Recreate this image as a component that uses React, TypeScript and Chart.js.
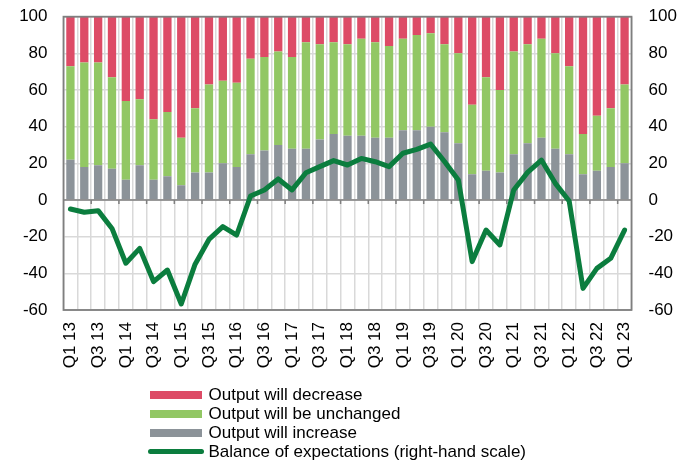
import React, { useEffect, useRef } from 'react';
import { Chart, registerables } from 'chart.js';

Chart.register(...registerables);

const categories = [
  'Q1 13', 'Q2 13', 'Q3 13', 'Q4 13',
  'Q1 14', 'Q2 14', 'Q3 14', 'Q4 14',
  'Q1 15', 'Q2 15', 'Q3 15', 'Q4 15',
  'Q1 16', 'Q2 16', 'Q3 16', 'Q4 16',
  'Q1 17', 'Q2 17', 'Q3 17', 'Q4 17',
  'Q1 18', 'Q2 18', 'Q3 18', 'Q4 18',
  'Q1 19', 'Q2 19', 'Q3 19', 'Q4 19',
  'Q1 20', 'Q2 20', 'Q3 20', 'Q4 20',
  'Q1 21', 'Q2 21', 'Q3 21', 'Q4 21',
  'Q1 22', 'Q2 22', 'Q3 22', 'Q4 22',
  'Q1 23',
];

const outputIncrease = [
  22, 18, 19, 17, 11, 19, 11, 13, 8, 15,
  15, 20, 18, 25, 27, 30, 28, 28, 33, 36,
  35, 35, 34, 34, 38, 38, 40, 37, 31, 14,
  16, 15, 25, 31, 34, 28, 25, 14, 16, 18,
  20,
];

const outputUnchanged = [
  51, 57, 56, 50, 43, 36, 33, 35, 26, 35,
  48, 45, 46, 52, 51, 51, 50, 58, 52, 50,
  50, 53, 52, 50, 50, 52, 51, 48, 49, 38,
  51, 45, 56, 54, 54, 52, 48, 22, 30, 32,
  43,
];

const outputDecrease = [
  27, 25, 25, 33, 46, 45, 56, 52, 66, 50,
  37, 35, 36, 23, 22, 19, 22, 14, 15, 14,
  15, 12, 14, 16, 12, 10, 9, 15, 20, 48,
  33, 40, 19, 15, 12, 20, 27, 64, 54, 50,
  37,
];

const balance = [
  -4.9, -6.7, -5.8, -15.5, -34.5, -26.4, -44.5, -38.2, -56.7, -35,
  -21.5, -14.5, -19.1, 2.2, 5.5, 11.5, 5.5, 14.9, 18.2, 21.5,
  19.1, 22.7, 20.9, 18.2, 25.5, 27.6, 30.5, 21, 10.9, -33.6,
  -16.4, -24.5, 5.5, 15.1, 21.8, 9.1, -0.5, -48.2, -37.3, -31.8,
  -16.4,
];

const axisMin = -60;
const axisMax = 100;
const axisStep = 20;

const seriesNames = [
  'Output will decrease',
  'Output will be unchanged',
  'Output will increase',
  'Balance of expectations (right-hand scale)',
];

const RED = '#DD4B66';
const GREEN = '#92C764';
const GREY = '#8C9399';
const LINE = '#0B7D3E';
const GRID = '#D9D9D9';
const FRAME = '#7F7F7F';
const FONT = "'Liberation Sans', Arial, sans-serif";

const framePlugin = {
  id: 'framePlugin',
  beforeDatasetDraw(chart: any, args: any) {
    if (args.meta.type !== 'line') return;
    const { ctx, chartArea: a, scales } = chart;
    const y0 = scales.y.getPixelForValue(0);
    ctx.save();
    ctx.strokeStyle = FRAME;
    ctx.lineWidth = 1.5;
    ctx.beginPath();
    ctx.moveTo(a.left, y0);
    ctx.lineTo(a.right, y0);
    const n = categories.length;
    const w = (a.right - a.left) / n;
    for (let k = 2; k < n; k += 2) {
      const x = a.left + k * w;
      ctx.moveTo(x, y0);
      ctx.lineTo(x, y0 + 4);
    }
    ctx.stroke();
    ctx.restore();
  },
  afterDatasetsDraw(chart: any) {
    const { ctx, chartArea: a } = chart;
    ctx.save();
    ctx.strokeStyle = FRAME;
    ctx.lineWidth = 1.8;
    ctx.strokeRect(a.left, a.top, a.right - a.left, a.bottom - a.top);
    ctx.restore();
  },
};

export default function App() {
  const canvasRef = useRef<HTMLCanvasElement | null>(null);

  useEffect(() => {
    document.body.style.marginBottom = '0px';
    if (!canvasRef.current) return;
    const chart = new Chart(canvasRef.current, {
      type: 'bar',
      data: {
        labels: categories,
        datasets: [
          {
            type: 'line',
            label: seriesNames[3],
            data: balance,
            yAxisID: 'y1',
            borderColor: LINE,
            backgroundColor: LINE,
            borderWidth: 5,
            pointRadius: 0,
            tension: 0,
            order: 0,
            borderCapStyle: 'round',
            borderJoinStyle: 'round',
          } as any,
          {
            label: seriesNames[2],
            data: outputIncrease,
            backgroundColor: GREY,
            yAxisID: 'y',
            order: 1,
            barPercentage: 0.6,
            categoryPercentage: 1,
          },
          {
            label: seriesNames[1],
            data: outputUnchanged,
            backgroundColor: GREEN,
            yAxisID: 'y',
            order: 1,
            barPercentage: 0.6,
            categoryPercentage: 1,
          },
          {
            label: seriesNames[0],
            data: outputDecrease,
            backgroundColor: RED,
            yAxisID: 'y',
            order: 1,
            barPercentage: 0.6,
            categoryPercentage: 1,
          },
        ],
      },
      options: {
        animation: false,
        responsive: true,
        maintainAspectRatio: false,
        layout: { padding: { top: 8.7, left: 0, right: 0, bottom: 0 } },
        plugins: {
          legend: { display: false },
          tooltip: { enabled: false },
        },
        scales: {
          x: {
            stacked: true,
            offset: true,
            grid: { offset: true, color: GRID, lineWidth: 1.5, drawTicks: false },
            border: { display: false },
            ticks: {
              autoSkip: false,
              maxRotation: 90,
              minRotation: 90,
              padding: 12,
              color: '#000',
              font: { family: FONT, size: 17, lineHeight: 1 },
              callback: (_v: any, i: number) => (i % 2 === 0 ? categories[i] : ''),
            },
            afterFit: (s: any) => {
              s.height = 144;
              s.paddingLeft = 0;
              s.paddingRight = 0;
            },
          },
          y: {
            position: 'left',
            stacked: true,
            min: axisMin,
            max: axisMax,
            grid: { color: GRID, lineWidth: 1.5, drawTicks: false },
            border: { display: false },
            ticks: {
              stepSize: axisStep,
              padding: 16,
              color: '#000',
              font: { family: FONT, size: 17, lineHeight: 1 },
            },
            afterFit: (s: any) => {
              s.width = 55.5;
              s.paddingTop = 0;
              s.paddingBottom = 0;
            },
          },
          y1: {
            position: 'right',
            min: axisMin,
            max: axisMax,
            grid: { display: false, drawTicks: false },
            border: { display: false },
            ticks: {
              stepSize: axisStep,
              padding: 17,
              color: '#000',
              font: { family: FONT, size: 17, lineHeight: 1 },
            },
            afterFit: (s: any) => {
              s.width = 46.5;
              s.paddingTop = 0;
              s.paddingBottom = 0;
            },
          },
        },
      },
      plugins: [framePlugin],
    });
    return () => chart.destroy();
  }, []);

  const legendItems = [
    { name: seriesNames[0], color: RED, line: false },
    { name: seriesNames[1], color: GREEN, line: false },
    { name: seriesNames[2], color: GREY, line: false },
    { name: seriesNames[3], color: LINE, line: true },
  ];

  return (
    <div style={{ position: 'relative', width: 670, height: 454 }}>
      <div style={{ position: 'relative', width: 670, height: 446 }}>
        <canvas ref={canvasRef} />
      </div>
      <div
        style={{
          position: 'absolute',
          left: 142,
          top: 377,
          fontFamily: FONT,
          fontSize: 17,
          lineHeight: '19px',
          color: '#000',
        }}
      >
        {legendItems.map((it) => (
          <div key={it.name} style={{ display: 'flex', alignItems: 'center', height: 19 }}>
            {it.line ? (
              <div
                style={{
                  width: 56,
                  height: 5,
                  borderRadius: 3,
                  background: it.color,
                  marginLeft: -2,
                  marginRight: 4.5,
                }}
              />
            ) : (
              <div style={{ width: 52, height: 8, background: it.color, marginRight: 6.5 }} />
            )}
            <span style={{ whiteSpace: 'nowrap' }}>{it.name}</span>
          </div>
        ))}
      </div>
    </div>
  );
}
